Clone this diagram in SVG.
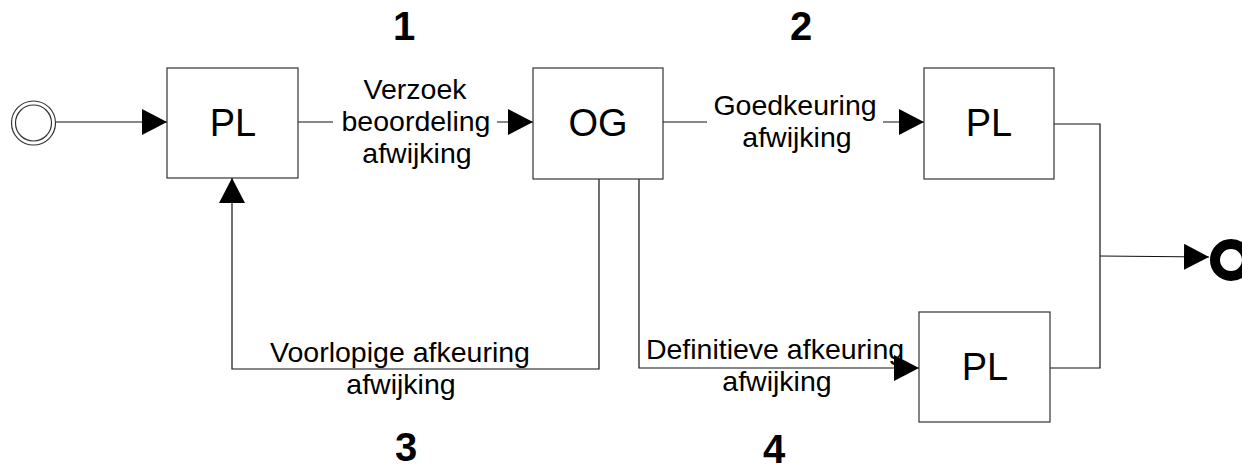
<svg xmlns="http://www.w3.org/2000/svg" width="1242" height="469" viewBox="0 0 1242 469">
  <style>
    .box { fill: #ffffff; stroke: #333333; stroke-width: 1.2; }
    .big { font-family: "Liberation Sans", Arial, sans-serif; font-size: 38px; fill: #000; text-anchor: middle; }
    .lbl { font-family: "Liberation Sans", Arial, sans-serif; font-size: 28.5px; fill: #000; text-anchor: middle; }
    .num { font-family: "Liberation Sans", Arial, sans-serif; font-size: 40px; font-weight: bold; fill: #000; text-anchor: middle; }
    .conn { fill: none; stroke: #111111; stroke-width: 1.2; }
  </style>
  <defs>
    <marker id="arr" markerUnits="userSpaceOnUse" markerWidth="26" markerHeight="26" refX="25" refY="13" orient="auto">
      <path d="M0,0 L25,13 L0,26 Z" fill="#000"/>
    </marker>
  </defs>
  <rect width="1242" height="469" fill="#ffffff"/>

  <g id="numbers">
    <text class="num" x="404" y="40">1</text>
    <text class="num" x="801" y="40">2</text>
    <text class="num" x="406" y="461">3</text>
    <text class="num" x="774" y="463">4</text>
  </g>

  <g id="connectors">
    <path class="conn" d="M56,122 H167" marker-end="url(#arr)"/>
    <path class="conn" d="M298,122 H333 M497,122 H533" marker-end="url(#arr)"/>
    <path class="conn" d="M663,122 H707 M883,122 H924" marker-end="url(#arr)"/>
    <path class="conn" d="M599,179 V369 H232 V178" marker-end="url(#arr)"/>
    <path class="conn" d="M639,179 V368 H919" marker-end="url(#arr)"/>
    <path class="conn" d="M1054,124 H1100 V368 H1050"/>
    <path class="conn" d="M1100,256 L1209,257" marker-end="url(#arr)"/>
  </g>

  <g id="labels">
    <text class="lbl" x="415" y="99">Verzoek</text>
    <text class="lbl" x="416" y="131">beoordeling</text>
    <text class="lbl" x="417" y="163">afwijking</text>
    <text class="lbl" x="795" y="115">Goedkeuring</text>
    <text class="lbl" x="797" y="147">afwijking</text>
    <text class="lbl" x="400" y="362">Voorlopige afkeuring</text>
    <text class="lbl" x="401" y="394">afwijking</text>
    <text class="lbl" x="775" y="359">Definitieve afkeuring</text>
    <text class="lbl" x="777" y="391">afwijking</text>
  </g>

  <g id="start">
    <circle cx="33.5" cy="123" r="22" fill="#fff" stroke="#333" stroke-width="1.2"/>
    <circle cx="33.5" cy="123" r="18" fill="none" stroke="#333" stroke-width="1.2"/>
  </g>

  <g id="pl1">
    <rect class="box" x="167" y="68" width="131" height="110"/>
    <text class="big" x="233" y="136">PL</text>
  </g>

  <g id="og">
    <rect class="box" x="533" y="68" width="130" height="111"/>
    <text class="big" x="598" y="136">OG</text>
  </g>

  <g id="pl2">
    <rect class="box" x="924" y="68" width="130" height="111"/>
    <text class="big" x="989" y="136">PL</text>
  </g>

  <g id="pl3">
    <rect class="box" x="919" y="312" width="131" height="110"/>
    <text class="big" x="985" y="380">PL</text>
  </g>

  <g id="end">
    <circle cx="1231" cy="260" r="16" fill="#fff" stroke="#000" stroke-width="10"/>
  </g>
</svg>
